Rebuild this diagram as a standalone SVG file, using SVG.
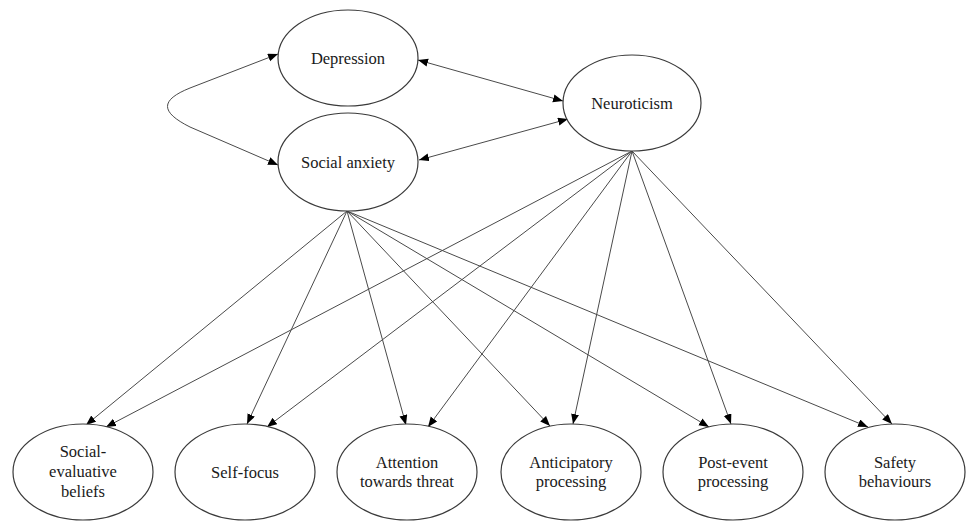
<svg xmlns="http://www.w3.org/2000/svg" width="966" height="521" viewBox="0 0 966 521">
<style>
.node ellipse{fill:#fff;stroke:#3a3a3a;stroke-width:1.2}
.node text{font-family:"Liberation Serif","Times New Roman",serif;font-size:16.5px;fill:#1a1a1a;text-anchor:middle}
.edges path,.edges line{stroke:#4a4a4a;stroke-width:1;fill:none}
</style>
<defs>
<marker id="ah" markerUnits="userSpaceOnUse" markerWidth="11" markerHeight="9" refX="10" refY="4" orient="auto-start-reverse" viewBox="0 0 11 9">
<path d="M0,0 L10,4 L0,8 z" fill="#000"/>
</marker>
</defs>
<rect width="966" height="521" fill="#fff"/>
<g class="edges">
<path d="M278,54 L190,88 C160,100 160,112 190,127 L278,165" marker-start="url(#ah)" marker-end="url(#ah)"/>
<line x1="418" y1="60" x2="563" y2="101" marker-start="url(#ah)" marker-end="url(#ah)"/>
<line x1="419" y1="160" x2="568" y2="119" marker-start="url(#ah)" marker-end="url(#ah)"/>
<line x1="347" y1="211" x2="86" y2="425" marker-end="url(#ah)"/>
<line x1="632" y1="151" x2="106" y2="427" marker-end="url(#ah)"/>
<line x1="347" y1="211" x2="247" y2="424" marker-end="url(#ah)"/>
<line x1="632" y1="151" x2="267" y2="427" marker-end="url(#ah)"/>
<line x1="347" y1="211" x2="406" y2="425" marker-end="url(#ah)"/>
<line x1="632" y1="151" x2="428" y2="427" marker-end="url(#ah)"/>
<line x1="347" y1="211" x2="550" y2="426" marker-end="url(#ah)"/>
<line x1="632" y1="151" x2="573" y2="424" marker-end="url(#ah)"/>
<line x1="347" y1="211" x2="709" y2="427" marker-end="url(#ah)"/>
<line x1="632" y1="151" x2="731" y2="424" marker-end="url(#ah)"/>
<line x1="347" y1="211" x2="868" y2="427" marker-end="url(#ah)"/>
<line x1="632" y1="151" x2="892" y2="424" marker-end="url(#ah)"/>
</g>
<g id="depression" class="node"><ellipse cx="348" cy="58" rx="70" ry="48"/><text x="348" y="64">Depression</text></g>
<g id="social-anxiety" class="node"><ellipse cx="348" cy="162" rx="70" ry="49"/><text x="348" y="168">Social anxiety</text></g>
<g id="neuroticism" class="node"><ellipse cx="632" cy="103" rx="69" ry="48"/><text x="632" y="109">Neuroticism</text></g>
<g id="social-evaluative-beliefs" class="node"><ellipse cx="83" cy="472" rx="70" ry="48"/><text x="83" y="457">Social-</text><text x="83" y="477">evaluative</text><text x="83" y="497">beliefs</text></g>
<g id="self-focus" class="node"><ellipse cx="245" cy="472" rx="70" ry="48"/><text x="245" y="478">Self-focus</text></g>
<g id="attention" class="node"><ellipse cx="407" cy="472" rx="70" ry="48"/><text x="407" y="468">Attention</text><text x="407" y="487">towards threat</text></g>
<g id="anticipatory" class="node"><ellipse cx="571" cy="472" rx="70" ry="48"/><text x="571" y="468">Anticipatory</text><text x="571" y="487">processing</text></g>
<g id="post-event" class="node"><ellipse cx="733" cy="472" rx="70" ry="48"/><text x="733" y="468">Post-event</text><text x="733" y="487">processing</text></g>
<g id="safety" class="node"><ellipse cx="895" cy="472" rx="70" ry="48"/><text x="895" y="468">Safety</text><text x="895" y="487">behaviours</text></g>
</svg>
